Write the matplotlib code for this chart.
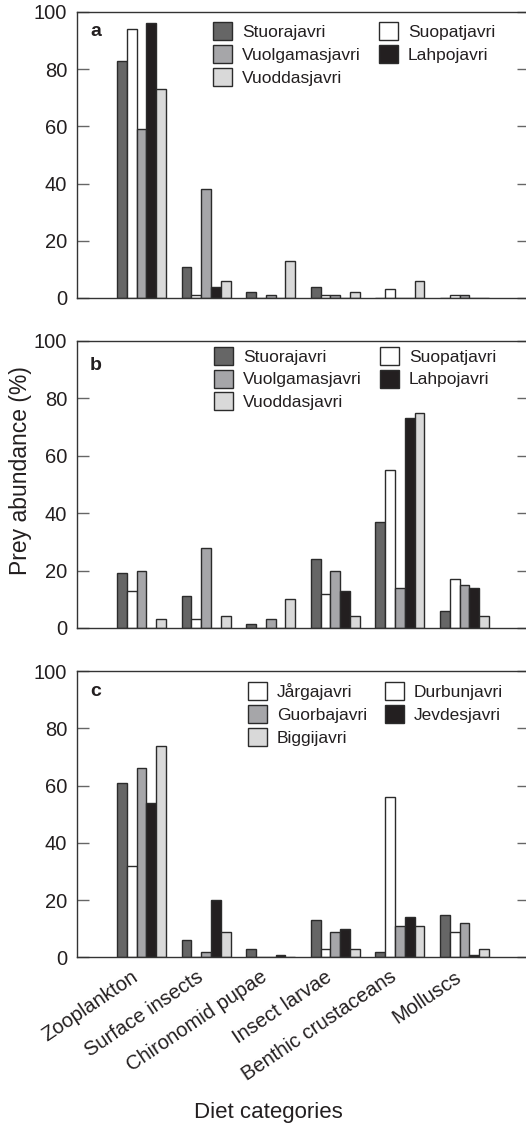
import matplotlib
matplotlib.use("Agg")
import matplotlib.pyplot as plt
from matplotlib.patches import Patch
import numpy as np

plt.rcParams['font.family'] = ['Liberation Sans', 'DejaVu Sans']

categories = ["Zooplankton", "Surface insects", "Chironomid pupae",
              "Insect larvae", "Benthic crustaceans", "Molluscs"]

# Panel a
lakes_a = ["Stuorajavri", "Suopatjavri", "Vuolgamasjavri", "Lahpojavri", "Vuoddasjavri"]
a_stuorajavri = [83, 11, 2, 4, 0, 0]
a_suopatjavri = [94, 1, 0, 1, 3, 1]
a_vuolgamasjavri = [59, 38, 1, 1, 0, 1]
a_lahpojavri = [96, 4, 0, 0, 0, 0]
a_vuoddasjavri = [73, 6, 13, 2, 6, 0]

# Panel b
lakes_b = ["Stuorajavri", "Suopatjavri", "Vuolgamasjavri", "Lahpojavri", "Vuoddasjavri"]
b_stuorajavri = [19, 11, 1.3, 24, 37, 6]
b_suopatjavri = [13, 3, 0, 12, 55, 17]
b_vuolgamasjavri = [20, 28, 3, 20, 14, 15]
b_lahpojavri = [0, 0, 0, 13, 73, 14]
b_vuoddasjavri = [3, 4, 10, 4, 75, 4]

# Panel c
lakes_c = ["Jårgajavri", "Durbunjavri", "Guorbajavri", "Jevdesjavri", "Biggijavri"]
c_jargajavri = [61, 6, 3, 13, 2, 15]
c_durbunjavri = [32, 0, 0, 3, 56, 9]
c_guorbajavri = [66, 2, 0, 9, 11, 12]
c_jevdesjavri = [54, 20, 1, 10, 14, 1]
c_biggijavri = [74, 9, 0, 3, 11, 3]

series_colors = ["#666666", "#ffffff", "#a6a6a9", "#231f20", "#d9d9d9"]
legend_colors_c = ["#ffffff", "#ffffff", "#a6a6a9", "#231f20", "#d9d9d9"]
yticks = [0, 20, 40, 60, 80, 100]

panels = [
    ("a", lakes_a, [a_stuorajavri, a_suopatjavri, a_vuolgamasjavri, a_lahpojavri, a_vuoddasjavri],
     [0.1464, 0.7356, 0.8593, 0.2538], (0.301, 0.965), 0.930),
    ("b", lakes_b, [b_stuorajavri, b_suopatjavri, b_vuolgamasjavri, b_lahpojavri, b_vuoddasjavri],
     [0.1464, 0.4428, 0.8593, 0.2547], (0.303, 0.980), 0.913),
    ("c", lakes_c, [c_jargajavri, c_durbunjavri, c_guorbajavri, c_jevdesjavri, c_biggijavri],
     [0.1464, 0.1504, 0.8593, 0.2542], (0.378, 0.962), 0.927),
]

fig = plt.figure(figsize=(5.26, 11.27), dpi=100)
x = np.arange(len(categories))
bw = 0.152
edge = "#2b2b2b"
axes = []
for label, lakes, data, pos, leg_anchor, label_y in panels:
    ax = fig.add_axes(pos)
    axes.append(ax)
    bars = []
    for i, vals in enumerate(data):
        b = ax.bar(x + (i - 2) * bw, vals, width=bw, color=series_colors[i],
                   edgecolor=edge, linewidth=1.0, label=lakes[i], zorder=2)
        bars.append(b)
    ax.set_xlim(-1, 6)
    ax.set_ylim(0, 100)
    ax.set_yticks(yticks)
    ax.tick_params(axis='y', which='both', direction='in', length=8.5, width=1,
                   color='#666666', labelsize=14.5, pad=7, left=True, right=True,
                   labelcolor='#231f20')
    ax.tick_params(axis='x', bottom=False, top=False)
    for s in ax.spines.values():
        s.set_color('#333333')
        s.set_linewidth(1.0)
    ax.text(0.029, label_y, label, transform=ax.transAxes, fontsize=14,
            fontweight='bold', va='center', ha='left', color='#231f20')
    if label == "c":
        handles = [Patch(facecolor=legend_colors_c[i], edgecolor=edge, linewidth=1.0)
                   for i in range(5)]
    else:
        handles = bars
    order = [0, 2, 4, 1, 3]
    ax.legend([handles[k] for k in order], [lakes[k] for k in order], ncol=2,
              loc='upper left', bbox_to_anchor=leg_anchor, frameon=False,
              fontsize=12.5, borderpad=0, borderaxespad=0, handlelength=1.09,
              handleheight=1.22, handletextpad=0.58, columnspacing=1.04,
              labelspacing=0.28, labelcolor='#231f20')
    if label != "c":
        ax.set_xticks([])
    else:
        ax.set_xticks(x)
        ax.set_xticklabels(categories, rotation=34, ha='right', fontsize=14.5,
                           color='#231f20')
        ax.set_xlabel("Diet categories", fontsize=16, color='#231f20')
        ax.xaxis.set_label_coords(0.4226, -0.504)

axes[1].set_ylabel("Prey abundance (%)", fontsize=16.5, color='#231f20')
axes[1].yaxis.set_label_coords(-0.10, 0.547)

fig.savefig("out.png", dpi=100)
